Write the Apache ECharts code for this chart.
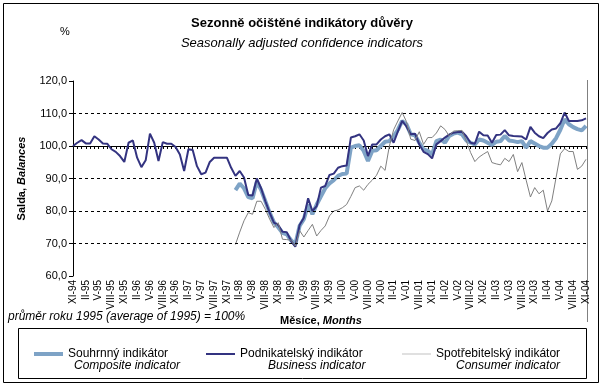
<!DOCTYPE html>
<html>
<head>
<meta charset="utf-8">
<script src="https://cdn.jsdelivr.net/npm/echarts@6/dist/echarts.min.js"></script>
<style>
html,body{margin:0;padding:0;background:#fff;}
#c{width:604px;height:387px;}
</style>
</head>
<body>
<div id="c"></div>
<script>
// ---- data ----
const romanMonths = ['I','II','III','IV','V','VI','VII','VIII','IX','X','XI','XII'];
const startMonthIndex = 10; // XI
const startYear = 94;
const monthCount = 121; // XI-94 .. XI-04
const categories = [];
for (let i = 0; i < monthCount; i++) {
  const m = (startMonthIndex + i) % 12;
  const y = (startYear + Math.floor((startMonthIndex + i) / 12)) % 100;
  categories.push(romanMonths[m] + '-' + (y < 10 ? '0' + y : '' + y));
}

const yTicks = [60, 70, 80, 90, 100, 110, 120];
const gridLevels = [70, 80, 90, 110];

const business = [
100,101,101.8,100.8,100.8,103,102,100.8,100.7,99,
98.2,96.9,95.1,101,101.7,96.4,93.5,95.6,103.8,101,
95.4,101.2,100.7,100.7,99.7,97.4,92.3,99,98.8,93.8,
91.3,91.8,95.1,96.4,96.4,96.4,96.4,93.3,90.8,92.3,
90.3,84.9,84.8,90,87,83,79.5,76.4,75.7,73.6,
73.5,70.8,69,75.7,77.9,83.9,80,81.5,87.2,87.7,
91.1,91.5,93.3,93.8,94,102.6,103,103.6,101.7,96.9,
100.5,100.5,102,103,103.6,101,104.5,107.7,106,103.6,
103.8,100.5,98.2,97.5,96.2,100.5,101.5,102.6,103.5,104.1,
104.3,104.4,103,101,100.7,104.4,103.3,103.2,101,103.4,
103.5,104.9,103.3,103.1,103,102.9,102,105.9,104.1,103,
102.4,104,105.1,105.4,107,110.3,107.7,107.7,107.7,107.9,
108.5
];

const composite = [
null,null,null,null,null,null,null,null,null,null,
null,null,null,null,null,null,null,null,null,null,
null,null,null,null,null,null,null,null,null,null,
null,null,null,null,null,null,null,null,86.4,88.4,
87,84.3,83.9,89,86.5,83,79.5,76.5,75,73.3,
72.8,71,69.7,75.4,77.5,82,79,82,84.5,87,
88.5,89.5,90.8,91.4,91.5,99.5,100,100.2,98.5,95.4,
98.5,98.7,100,101.3,101.5,103,105,107.7,106.7,103.6,
103.3,101,99,98.5,97.4,101.5,102,101,103.1,103.8,
104.1,103.6,101.7,101,100.5,102,101.7,101,100.3,101.3,
101.5,103.1,101.7,101.5,101.2,101.5,99.5,101.5,100.8,100,
99.5,99.5,100.7,102.4,105,108.2,106.7,105.8,105.2,104.8,
106.2
];

const consumer = [
null,null,null,null,null,null,null,null,null,null,
null,null,null,null,null,null,null,null,null,null,
null,null,null,null,null,null,null,null,null,null,
null,null,null,null,null,null,null,null,69.7,73.5,
77,79.5,79,83,83,80.5,77.5,74.9,76.4,71.3,
71.2,71,69.2,74,72,74,75.9,72.3,74,75.4,
78.5,80,80.3,81,82,84.5,87.2,87.7,86.4,88.2,
89.5,91,93.8,92.5,100,105,107.7,110.3,107.5,102.1,
101.7,104.4,100.5,102.6,102.6,104,106.2,105.1,103.1,104.6,
104.7,104.8,101.5,98,95.2,96.6,97.5,98.3,94.9,94.5,
94.2,96.2,95.2,97.4,92.1,94.9,89.5,84.3,87.2,85.3,
86.4,80,83.1,90.3,97.6,99.2,98.3,98.3,92.8,93.8,
95.9
];

const seriesNames = ['Souhrnný indikátor', 'Podnikatelský indikátor', 'Spotřebitelský indikátor'];
const seriesNamesEn = ['Composite indicator', 'Business indicator', 'Consumer indicator'];
const seriesColors = ['#7ea3c6', '#333380', '#808080'];

// ---- chart ----
const FONT = '"Liberation Sans", Arial, sans-serif';
const chart = echarts.init(document.getElementById('c'), null, {renderer: 'canvas'});

const legendText = {};
legendText[seriesNames[0]] = '{e| }\n{a1|' + seriesNames[0] + '}\n{s1| }{b|' + seriesNamesEn[0] + '}';
legendText[seriesNames[1]] = '{e| }\n{a2|' + seriesNames[1] + '}\n{s2| }{b|' + seriesNamesEn[1] + '}';
legendText[seriesNames[2]] = '{e| }\n{a3|' + seriesNames[2] + '}\n{s3| }{b|' + seriesNamesEn[2] + '}';

const legendIcons = [
  'path://M0,0H29V4H0Z',
  'path://M0,0H29V2H0Z',
  'path://M0,0H58V1H0Z'
];

const option = {
  animation: false,
  backgroundColor: '#ffffff',
  textStyle: {fontFamily: FONT},
  title: {
    text: 'Sezonně očištěné indikátory důvěry',
    subtext: 'Seasonally adjusted confidence indicators',
    left: 'center',
    top: 17,
    itemGap: 7,
    padding: 0,
    textStyle: {fontFamily: FONT, fontSize: 13, fontWeight: 'bold', color: '#000'},
    subtextStyle: {fontFamily: FONT, fontSize: 13, fontStyle: 'italic', color: '#000'}
  },
  grid: {left: 73, right: 18, top: 81, bottom: 111, containLabel: false},
  legend: {
    left: 34,
    top: 336,
    padding: 0,
    itemWidth: 29,
    itemHeight: 12,
    itemGap: 15,
    symbolKeepAspect: true,
    data: seriesNames.map(function (n, k) {
      return {name: n, icon: legendIcons[k], itemStyle: {color: seriesColors[k], borderWidth: 0}};
    }),
    formatter: function (name) { return legendText[name]; },
    textStyle: {
      fontFamily: FONT, fontSize: 12, color: '#000',
      rich: {
        e: {fontSize: 12, lineHeight: 12, fontFamily: FONT},
        a1: {width: 123, fontSize: 12, lineHeight: 12, fontFamily: FONT, color: '#000'},
        a2: {width: 147, fontSize: 12, lineHeight: 12, fontFamily: FONT, color: '#000'},
        a3: {width: 140, fontSize: 12, lineHeight: 12, fontFamily: FONT, color: '#000'},
        s1: {width: 6, fontSize: 12, lineHeight: 12},
        s2: {width: 28, fontSize: 12, lineHeight: 12},
        s3: {width: 20, fontSize: 12, lineHeight: 12},
        b: {fontSize: 12, lineHeight: 12, fontStyle: 'italic', fontFamily: FONT, color: '#000'}
      }
    }
  },
  xAxis: [
    {
      type: 'category',
      data: categories,
      boundaryGap: false,
      position: 'bottom',
      axisLine: {show: false},
      axisTick: {show: false},
      splitLine: {show: false},
      axisLabel: {
        interval: 2,
        rotate: 90,
        margin: 4,
        fontSize: 10,
        fontFamily: FONT,
        color: '#000'
      }
    },
    {
      type: 'category',
      data: categories,
      boundaryGap: false,
      position: 'bottom',
      offset: -130,
      axisLine: {show: true, lineStyle: {color: '#000', width: 1}},
      axisTick: {show: true, interval: 0, length: 3, inside: false, lineStyle: {color: '#000'}},
      axisLabel: {show: false},
      splitLine: {show: false}
    }
  ],
  yAxis: {
    type: 'value',
    min: yTicks[0],
    max: yTicks[yTicks.length - 1],
    interval: 10,
    name: 'Salda, {i|Balances}',
    nameLocation: 'middle',
    nameRotate: 90,
    nameGap: 46,
    nameTextStyle: {
      fontFamily: FONT, fontSize: 11, fontWeight: 'bold', color: '#000',
      rich: {i: {fontFamily: FONT, fontSize: 11, fontWeight: 'bold', fontStyle: 'italic', color: '#000'}}
    },
    axisLine: {show: true, lineStyle: {color: '#000', width: 1}},
    axisTick: {show: true, length: 4, lineStyle: {color: '#000'}},
    splitLine: {show: false},
    axisLabel: {
      margin: 6,
      fontSize: 11,
      fontFamily: FONT,
      color: '#000',
      formatter: function (v) { return v.toFixed(1).replace('.', ','); }
    }
  },
  series: [
    {
      name: seriesNames[0],
      type: 'line',
      data: composite,
      showSymbol: false,
      symbol: 'none',
      connectNulls: false,
      lineStyle: {color: seriesColors[0], width: 4},
      itemStyle: {color: seriesColors[0]},
      markLine: {
        silent: true,
        symbol: 'none',
        label: {show: false},
        lineStyle: {color: '#000', type: [3, 3], width: 1},
        data: gridLevels.map(function (v) { return {yAxis: v}; })
      },
      z: 2
    },
    {
      name: seriesNames[1],
      type: 'line',
      data: business,
      showSymbol: false,
      symbol: 'none',
      lineStyle: {color: seriesColors[1], width: 2},
      itemStyle: {color: seriesColors[1]},
      z: 3
    },
    {
      name: seriesNames[2],
      type: 'line',
      data: consumer,
      showSymbol: false,
      symbol: 'none',
      lineStyle: {color: seriesColors[2], width: 1},
      itemStyle: {color: seriesColors[2]},
      z: 4
    }
  ],
  graphic: [
    {type: 'rect', shape: {x: 3.5, y: 3.5, width: 595, height: 379}, style: {fill: 'none', stroke: '#000', lineWidth: 1}, silent: true, z: -1},
    {type: 'line', shape: {x1: 587.5, y1: 80, x2: 587.5, y2: 322}, style: {stroke: '#808080', lineWidth: 1}, silent: true},
    {type: 'rect', shape: {x: 18.5, y: 328.5, width: 568, height: 50}, style: {fill: 'none', stroke: '#000', lineWidth: 1}, silent: true},
    {type: 'text', left: 60, top: 26, style: {text: '%', font: '11px ' + FONT, fill: '#000'}},
    {type: 'text', left: 8, top: 311, style: {text: 'průměr roku 1995 (average of 1995) = 100%', font: 'italic 12px ' + FONT, fill: '#000'}},
    {type: 'text', left: 280, top: 315, style: {text: '{a|Měsíce, }{b|Months}', rich: {
      a: {fontFamily: FONT, fontSize: 11, fontWeight: 'bold', fill: '#000', color: '#000'},
      b: {fontFamily: FONT, fontSize: 11, fontWeight: 'bold', fontStyle: 'italic', fill: '#000', color: '#000'}
    }}}
  ]
};
chart.setOption(option);
</script>
</body>
</html>
